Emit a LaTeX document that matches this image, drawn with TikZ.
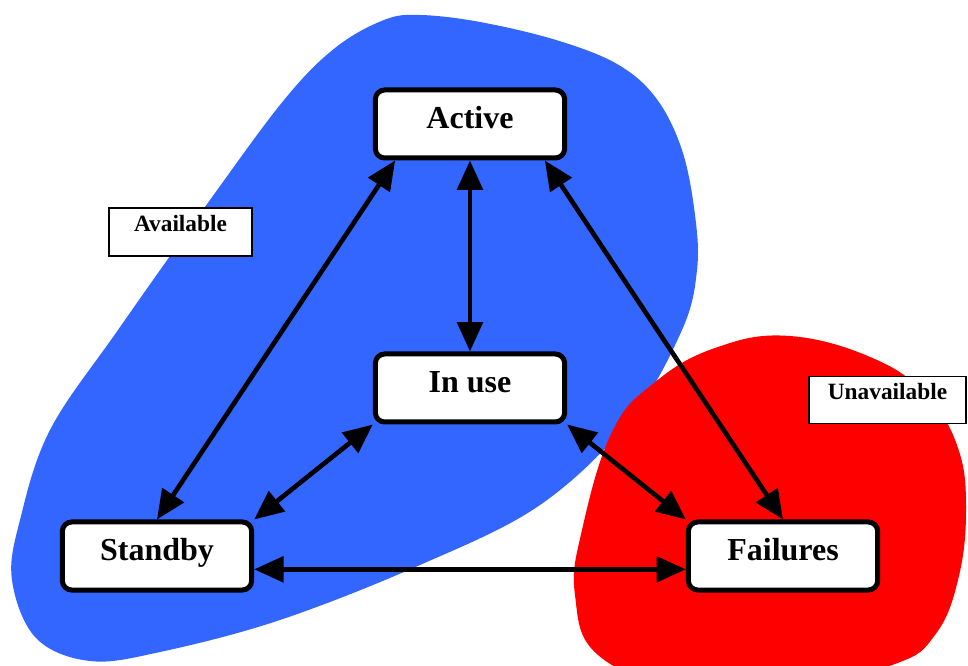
\documentclass[tikz,border=0pt]{standalone}
\usepackage{fontspec}
\setmainfont{Liberation Serif}
\usetikzlibrary{arrows.meta,positioning,calc}
\definecolor{availblue}{HTML}{3366FF}
\definecolor{failred}{HTML}{FF0000}

\begin{document}
\begin{tikzpicture}[
  x=.75pt,y=-.75pt,
  state/.style={draw=black,fill=white,line width=3.75pt,rounded corners=7pt,
    minimum width=142pt,minimum height=51pt,inner sep=0pt,
    font=\bfseries\fontsize{24}{28}\selectfont,text height=16pt,text depth=9pt},
  tag/.style={draw=black,fill=white,line width=1.2pt,inner sep=0pt,
    font=\bfseries\fontsize{17.5}{21}\selectfont,text height=12pt,text depth=12pt},
  link/.style={{Triangle[length=22pt,width=19pt]}-{Triangle[length=22pt,width=19pt]},line width=3.5pt}
]
\useasboundingbox (0,0) rectangle (968,666);
\clip (0,0) rectangle (968,666);

% regions
\fill[availblue] plot[smooth cycle,tension=.6] coordinates {
  (420,15) (480,22) (556,40) (617,64) (656,98) (682,150) (695,215)
  (697,270) (682,330) (630,420) (540,505) (420,565) (280,620) (160,652)
  (90,661) (36,638) (12,580) (20,520) (50,430) (118,330) (210,200)
  (284,100) (335,48) (384,20)};
\fill[failred] plot[smooth cycle,tension=.7] coordinates {
  (790,336) (877,360) (928,398) (958,448) (966,510) (958,580) (935,635)
  (895,664) (800,685) (680,685) (598,655) (575,595) (582,530) (612,432)
  (654,383) (715,348)};

% states
\node[state] (active)   at (470,124) {Active};
\node[state] (inuse)    at (470,388) {In use};
\node[state] (standby)  at (157,556) {Standby};
\node[state] (failures) at (783,556) {Failures};

% region labels
\node[tag,minimum width=107pt,minimum height=36pt] (avail) at (180.5,232) {Available};
\node[tag,minimum width=118pt,minimum height=35pt] (unavail) at (887.5,400) {Unavailable};

% transitions
\draw[link] (active.-154) -- (standby.north);
\draw[link] (active.south) -- (inuse.north);
\draw[link] (active.-26) -- (failures.north);
\draw[link] (inuse.south west) -- (standby.north east);
\draw[link] (inuse.south east) -- (failures.north west);
\draw[link] ([yshift=-10pt]standby.east) -- ([yshift=-10pt]failures.west);
\end{tikzpicture}
\end{document}
